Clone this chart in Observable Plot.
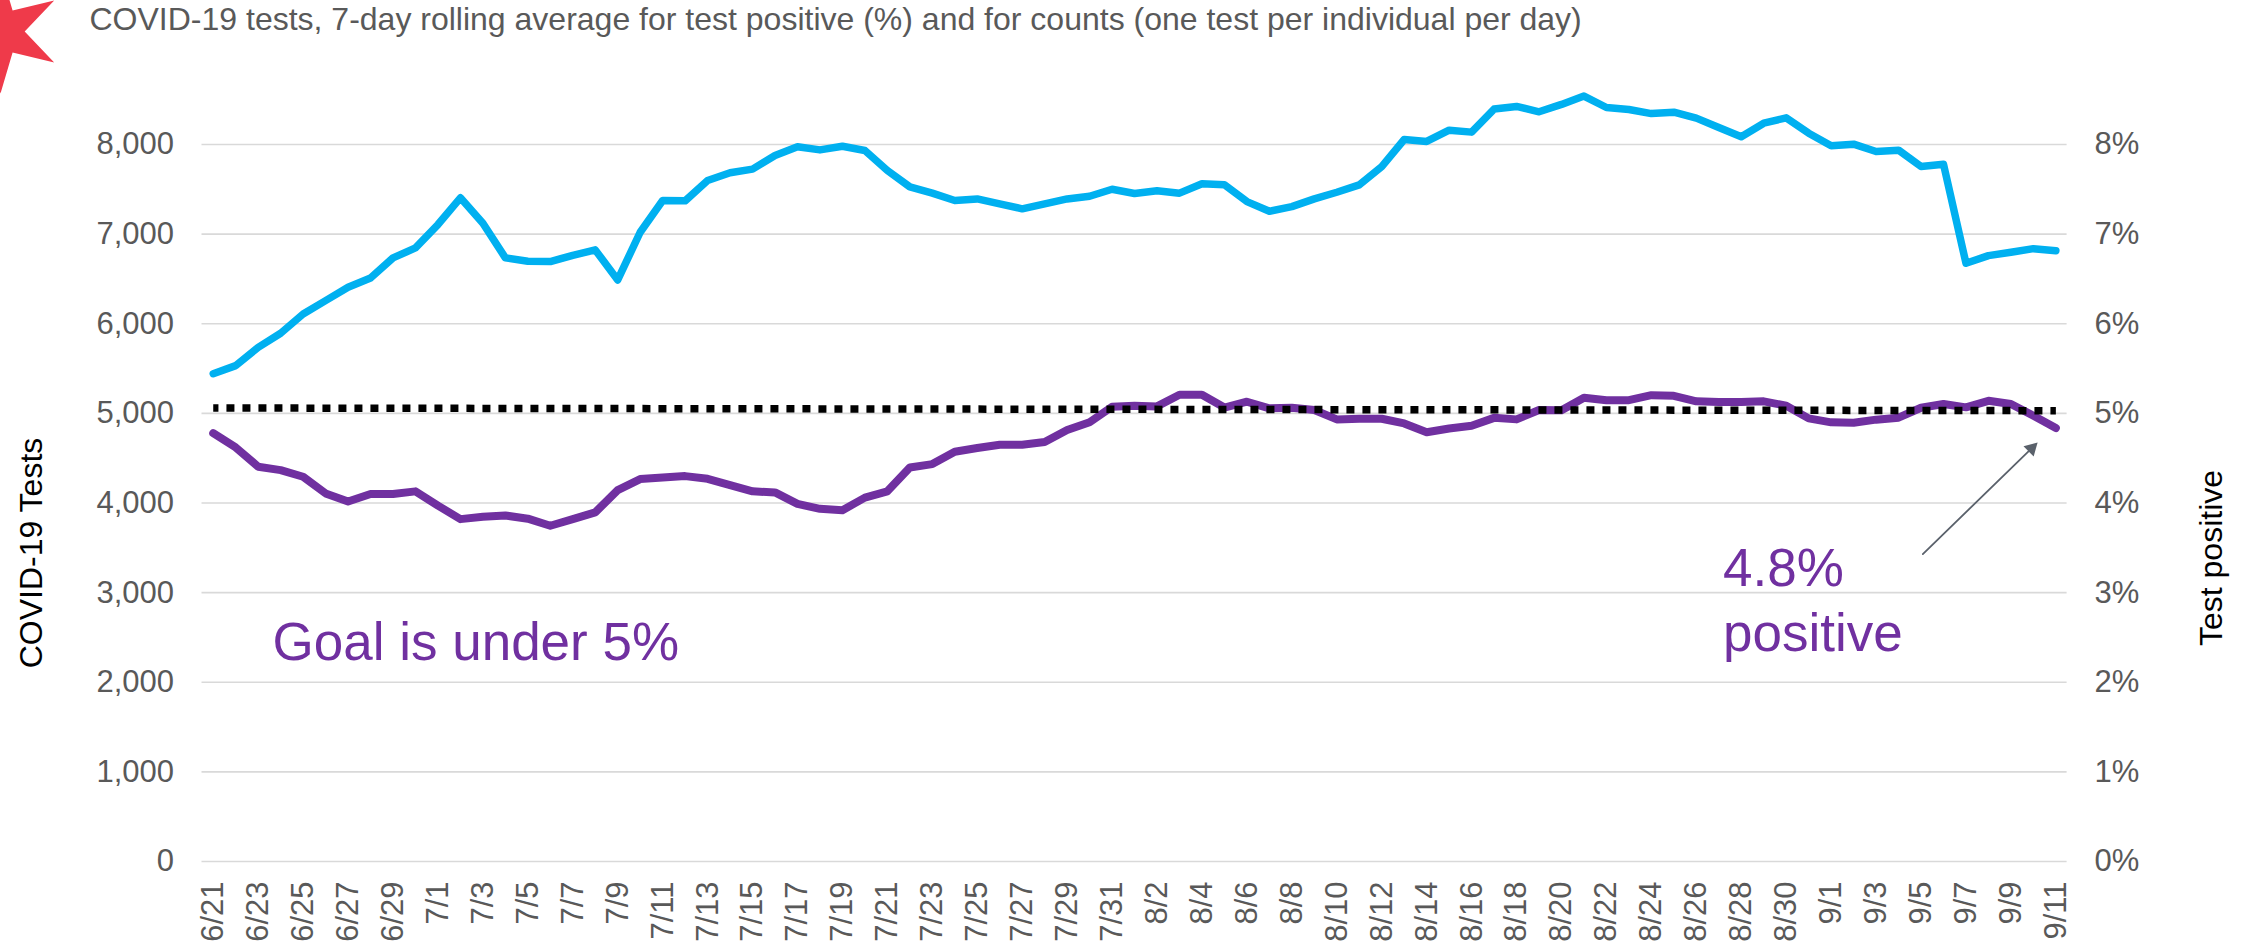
<!DOCTYPE html>
<html>
<head>
<meta charset="utf-8">
<style>html,body{margin:0;padding:0;background:#fff;overflow:hidden}svg{display:block}</style>
<script src="https://cdn.jsdelivr.net/npm/d3@7"></script>
<script src="https://cdn.jsdelivr.net/npm/@observablehq/plot@0.6"></script>
</head>
<body>
<div id="chart"></div>
<script>
const dates = ["6/21","6/22","6/23","6/24","6/25","6/26","6/27","6/28","6/29","6/30",
"7/1","7/2","7/3","7/4","7/5","7/6","7/7","7/8","7/9","7/10","7/11","7/12","7/13","7/14","7/15","7/16","7/17","7/18","7/19","7/20","7/21","7/22","7/23","7/24","7/25","7/26","7/27","7/28","7/29","7/30","7/31",
"8/1","8/2","8/3","8/4","8/5","8/6","8/7","8/8","8/9","8/10","8/11","8/12","8/13","8/14","8/15","8/16","8/17","8/18","8/19","8/20","8/21","8/22","8/23","8/24","8/25","8/26","8/27","8/28","8/29","8/30","8/31",
"9/1","9/2","9/3","9/4","9/5","9/6","9/7","9/8","9/9","9/10","9/11"];
const tests = [5443,5533,5737,5894,6109,6258,6407,6511,6735,6846,
7107,7405,7122,6735,6697,6694,6764,6824,6489,7021,7375,7371,7598,7684,7725,7877,7974,7940,7981,7933,7710,7527,7457,7375,7393,7338,7282,7338,7393,7423,7501,
7453,7483,7457,7562,7552,7363,7255,7307,7393,7467,7549,7754,8056,8034,8160,8138,8395,8425,8365,8447,8540,8413,8391,8345,8361,8294,8190,8086,8238,8298,8126,
7985,8004,7922,7937,7754,7780,6675,6760,6797,6838,6815];
const positive = [4.78,4.62,4.405,4.367,4.293,4.107,4.017,4.10,4.10,4.13,
3.97,3.82,3.846,3.861,3.825,3.746,3.82,3.895,4.144,4.267,4.285,4.30,4.27,4.20,4.13,4.118,3.99,3.935,3.92,4.06,4.13,4.397,4.434,4.572,4.613,4.65,4.65,4.68,4.814,4.90,5.074,
5.086,5.078,5.208,5.208,5.065,5.13,5.056,5.063,5.037,4.933,4.94,4.94,4.888,4.79,4.832,4.862,4.95,4.933,5.037,5.034,5.175,5.147,5.147,5.203,5.196,5.135,5.126,5.126,5.134,5.086,4.944,
4.90,4.896,4.93,4.952,5.063,5.104,5.067,5.14,5.104,4.974,4.836];
const goalTrend = [5.06, 5.03];
const yTicks = [0,1000,2000,3000,4000,5000,6000,7000,8000];
const titleText = "COVID-19 tests, 7-day rolling average for test positive (%) and for counts (one test per individual per day)";

const rows = dates.map((date,i)=>({i,date,tests:tests[i],positive:positive[i]}));
const trendRows = [{i:0,v:goalTrend[0]},{i:dates.length-1,v:goalTrend[1]}];
const evenIdx = rows.filter(d=>d.i%2===0).map(d=>d.i);
const pct = d=>d*1000;

const GREY="#595959", PURPLE="#7030A0", BLUE="#00B0F0", ARROW="#5A616B", FONT="'Liberation Sans', Arial, sans-serif";

const star = {draw(c,size){
  const R=Math.sqrt(size/Math.PI), r=R*0.39;
  for(let k=0;k<12;k++){
    const a=(k*30-30)*Math.PI/180, q=k%2===0?R:r;
    const x=q*Math.cos(a), y=q*Math.sin(a);
    k?c.lineTo(x,y):c.moveTo(x,y);
  }
  c.closePath();
}};

const chart = Plot.plot({
  width:2251, height:944,
  marginLeft:201.5, marginRight:184.4, marginTop:144, marginBottom:83,
  style:{fontFamily:FONT, background:"#fff"},
  x:{type:"linear", domain:[-0.5,82.5]},
  y:{type:"linear", domain:[0,8000]},
  marks:[
    Plot.ruleY(yTicks,{stroke:"#D9D9D9",strokeWidth:1.6}),
    Plot.axisY(yTicks,{anchor:"left",tickSize:0,tickPadding:28,fontSize:31,color:GREY,fill:GREY,label:null,tickFormat:d3.format(",")}),
    Plot.axisY(yTicks,{anchor:"right",tickSize:0,tickPadding:27.5,fontSize:31,color:GREY,fill:GREY,label:null,tickFormat:d=>`${d/1000}%`}),
    Plot.axisX(evenIdx,{anchor:"bottom",tickSize:0,tickPadding:20,fontSize:31,fill:GREY,label:null,tickRotate:-90,tickFormat:i=>dates[i]}),
    Plot.line(rows,{x:"i",y:"tests",stroke:BLUE,strokeWidth:7.5,strokeLinejoin:"round",strokeLinecap:"round"}),
    Plot.line(rows,{x:"i",y:d=>pct(d.positive),stroke:PURPLE,strokeWidth:8,strokeLinejoin:"round",strokeLinecap:"round"}),
    Plot.line(trendRows,{x:"i",y:d=>pct(d.v),stroke:"#000",strokeWidth:7.5,strokeLinecap:"butt",strokeDasharray:"8,8",strokeDashoffset:2.8}),
    Plot.line([{x:76.08,y:3430},{x:80.92,y:4609}],{x:"x",y:"y",stroke:ARROW,strokeWidth:1.8}),
    Plot.dot([{x:80.92,y:4609}],{x:"x",y:"y",r:5.4,symbol:"triangle",fill:ARROW,stroke:"none",rotate:45.8}),
    Plot.text(["Goal is under 5%"],{frameAnchor:"top-left",dx:70.5,dy:515,fontSize:53,fill:PURPLE,textAnchor:"start",lineAnchor:"bottom"}),
    Plot.text(["4.8%"],{frameAnchor:"top-left",dx:1521,dy:441,fontSize:53,fill:PURPLE,textAnchor:"start",lineAnchor:"bottom"}),
    Plot.text(["positive"],{frameAnchor:"top-left",dx:1521,dy:506,fontSize:53,fill:PURPLE,textAnchor:"start",lineAnchor:"bottom"}),
    Plot.text(["COVID-19 Tests"],{frameAnchor:"left",dx:-170,dy:50,rotate:-90,fontSize:32,fill:"#000",textAnchor:"middle"}),
    Plot.text(["Test positive"],{frameAnchor:"right",dx:145,dy:55,rotate:-90,fontSize:32,fill:"#000",textAnchor:"middle"}),
    Plot.text([titleText],{frameAnchor:"top-left",dx:-112.5,dy:-114.5,fontSize:32,fill:GREY,textAnchor:"start",lineAnchor:"bottom"}),
    Plot.dot([0],{frameAnchor:"top-left",dx:-201.5,dy:-113,r:62,symbol:star,fill:"#EF3A4A",stroke:"none"})
  ]
});
document.getElementById("chart").appendChild(chart);
</script>
</body>
</html>
